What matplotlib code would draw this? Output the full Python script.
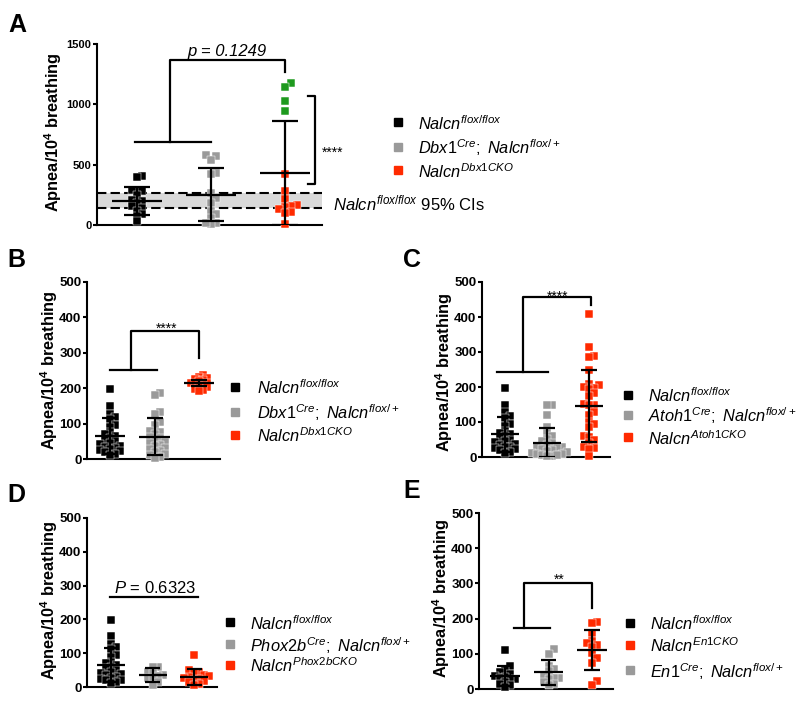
import numpy as np
import matplotlib
matplotlib.use('Agg')
import matplotlib.pyplot as plt
from matplotlib.lines import Line2D

plt.rcParams['font.family'] = ['Liberation Sans', 'DejaVu Sans']
plt.rcParams['mathtext.fontset'] = 'custom'
plt.rcParams['mathtext.rm'] = 'Liberation Sans'
plt.rcParams['mathtext.it'] = 'Liberation Sans:italic'
plt.rcParams['mathtext.bf'] = 'Liberation Sans:bold'

BLACK = '#000000'; GRAY = '#9a9a9a'; RED = '#ff2a00'; GREEN = '#1e9a1e'

# ---------------- data ----------------
A_flox = [410, 395, 290, 280, 250, 205, 195, 180, 155, 140, 120, 90, 75, 30]
A_het = [580, 572, 539, 428, 420, 263, 221, 180, 119, 91, 55, 14, 8, 14]
A_cko_red = [420, 282, 213, 166, 160, 152, 130, 110, 102, 8]
A_cko_green = [1175, 1147, 1028, 948]
A_mean = [200, 252, 430]
A_sd = [118, 220, 435]
A_ci = [138, 268]

BCD_flox = [198, 150, 128, 118, 112, 95, 90, 75, 70, 65, 60, 55, 50, 45,
            42, 38, 35, 30, 28, 25, 22, 20, 15, 12]
B_het = [186, 181, 134, 126, 105, 96, 80, 77, 70, 62, 58, 52, 48, 44, 40,
         36, 32, 28, 24, 20, 15, 10, 5, 2]
B_cko = [236, 232, 229, 225, 222, 219, 216, 214, 211, 208, 205, 202, 199, 196, 193]
B_mean = [65, 63, 214]
B_sd = [50, 52, 8]

C_het = [150, 148, 120, 85, 70, 60, 52, 45, 40, 35, 30, 28, 25, 22, 20, 18,
         15, 12, 10, 8, 5, 3, 2, 5]
C_cko = [409, 315, 289, 286, 250, 210, 205, 200, 198, 195, 182, 175, 152, 150,
         148, 128, 120, 100, 95, 85, 60, 58, 50, 40, 28, 25, 22, 2]
C_mean = [65, 41, 147]
C_sd = [50, 43, 103]

D_het = [60, 58, 45, 40, 35, 32, 28, 25, 15, 5]
D_cko = [95, 50, 45, 40, 35, 32, 30, 28, 25, 22, 18, 15, 10, 5]
D_mean = [65, 36, 30]
D_sd = [50, 20, 24]

E_flox = [112, 65, 55, 48, 42, 38, 35, 32, 28, 25, 20, 15, 10, 5]
E_het = [113, 100, 65, 57, 50, 40, 32, 30, 28, 20, 15, 10]
E_cko = [190, 187, 158, 137, 130, 125, 120, 103, 87, 75, 24, 11]
E_mean = [37, 47, 111]
E_sd = [28, 35, 56]

L_flox = r'$\mathit{Nalcn}^{\mathit{flox/flox}}$'
L_dbx_het = r'$\mathit{Dbx1}^{\mathit{Cre}}\mathit{;\ Nalcn}^{\mathit{flox/+}}$'
L_dbx_cko = r'$\mathit{Nalcn}^{\mathit{Dbx1CKO}}$'
L_atoh_het = r'$\mathit{Atoh1}^{\mathit{Cre}}\mathit{;\ Nalcn}^{\mathit{flox/+}}$'
L_atoh_cko = r'$\mathit{Nalcn}^{\mathit{Atoh1CKO}}$'
L_phox_het = r'$\mathit{Phox2b}^{\mathit{Cre}}\mathit{;\ Nalcn}^{\mathit{flox/+}}$'
L_phox_cko = r'$\mathit{Nalcn}^{\mathit{Phox2bCKO}}$'
L_en_cko = r'$\mathit{Nalcn}^{\mathit{En1CKO}}$'
L_en_het = r'$\mathit{En1}^{\mathit{Cre}}\mathit{;\ Nalcn}^{\mathit{flox/+}}$'
YLABEL = r'Apnea/10$^{\mathbf{4}}$ breathing'

# ---------------- layout helpers ----------------
W, H = 800, 703
fig = plt.figure(figsize=(W / 100, H / 100), dpi=100)


def add_ax(l, t, r, b, xlim, ylim, yticks, tsize):
    ax = fig.add_axes([l / W, 1 - b / H, (r - l) / W, (b - t) / H])
    ax.set_xlim(*xlim)
    ax.set_ylim(*ylim)
    for s in ['top', 'right']:
        ax.spines[s].set_visible(False)
    for s in ['left', 'bottom']:
        ax.spines[s].set_linewidth(1.5)
    ax.set_xticks([])
    ax.set_yticks(yticks)
    ax.tick_params(axis='y', direction='out', length=3, width=1.5, pad=1,
                   labelsize=tsize)
    for lab in ax.get_yticklabels():
        lab.set_fontweight('bold')
    ax.patch.set_alpha(0)
    return ax


def swarm(ax, ys, size=5.0):
    ys = np.asarray(ys, float)
    tr = ax.transData
    sx = tr.transform((1, 0))[0] - tr.transform((0, 0))[0]
    yp = np.array([tr.transform((0, v))[1] for v in ys])
    offs = np.zeros(len(ys))
    placed = []
    step = size * 0.5
    cands = [0.0]
    for m in range(1, 40):
        cands += [m * step, -m * step]
    for i in np.argsort(yp):
        for c in cands:
            if all(not (abs(px - c) < size and abs(py - yp[i]) < size)
                   for px, py in placed):
                break
        offs[i] = c
        placed.append((c, yp[i]))
    return offs / sx


def group(ax, xc, ys, colors, mean, sd, hw_mean=0.34, hw_cap=0.18, size=5.0):
    ys = list(ys)
    off = swarm(ax, ys, size)
    for (o, v, c) in zip(off, ys, colors):
        ax.plot([xc + o], [v], 's', ms=5.2, mfc=c, mec='white', mew=0.35,
                clip_on=False, zorder=3)
    kw = dict(color='black', lw=1.6, zorder=5, solid_capstyle='butt')
    lo = max(mean - sd, 0)
    ax.plot([xc - hw_mean, xc + hw_mean], [mean, mean], **kw)
    ax.plot([xc, xc], [lo, mean + sd], **kw)
    ax.plot([xc - hw_cap, xc + hw_cap], [mean + sd, mean + sd], **kw)
    ax.plot([xc - hw_cap, xc + hw_cap], [lo, lo], **kw)


def bracket(ax, lx, ly, mx, ty, rx, rb):
    kw = dict(color='black', lw=1.6, clip_on=False, zorder=5)
    ax.plot(lx, [ly, ly], **kw)
    ax.plot([mx, mx, rx, rx], [ly, ty, ty, rb], **kw)


def legend(mx, tx, rows, items, fs=11.8):
    for y, (c, lab) in zip(rows, items):
        fig.add_artist(Line2D([mx / W], [1 - y / H], marker='s', ms=5.5,
                              color=c, ls='none', transform=fig.transFigure))
        fig.text(tx / W, 1 - (y + 7.5) / H, lab, fontsize=fs, va='baseline',
                 ha='left')


def ylabel(x, y):
    fig.text(x / W, 1 - y / H, YLABEL, rotation=90, ha='center', va='center',
             fontsize=11.8, fontweight='bold')


def letter(x, y, s):
    fig.text(x / W, 1 - y / H, s, fontsize=18, fontweight='bold',
             va='baseline', ha='left')


# ---------------- Panel A ----------------
axA = add_ax(97, 44, 322, 225, (0.46, 3.5), (0, 1500), [0, 500, 1000, 1500], 8)
axA.axhspan(A_ci[0], A_ci[1], color='#d9d9d9', zorder=0, lw=0)
for v in A_ci:
    axA.plot([0.46, 3.5], [v, v], color='black', lw=1.5, dashes=(4.5, 2),
             zorder=1)
group(axA, 1, A_flox, [BLACK] * len(A_flox), A_mean[0], A_sd[0])
group(axA, 2, A_het, [GRAY] * len(A_het), A_mean[1], A_sd[1])
group(axA, 3, A_cko_red + A_cko_green,
      [RED] * len(A_cko_red) + [GREEN] * len(A_cko_green), A_mean[2], A_sd[2],
      size=6.0)
bracket(axA, [0.98, 2.0], 686, 1.44, 1368, 3.0, 1271)
axA.text(2.22, 1401, 'p = 0.1249', style='italic', fontsize=12, ha='center',
         va='baseline')
kw = dict(color='black', lw=1.6, clip_on=False, zorder=5)
axA.plot([3.31, 3.41, 3.41, 3.31], [1069, 1069, 340, 340], **kw)
axA.text(3.64, 564, '****', fontsize=10, ha='center', va='baseline')
fig.text(333 / W, 1 - 210 / H, L_flox + ' 95% CIs', fontsize=12,
         va='baseline', ha='left')
legend(398, 418, [122, 147, 170],
       [(BLACK, L_flox), (GRAY, L_dbx_het), (RED, L_dbx_cko)])
ylabel(53, 132)
letter(8, 32, 'A')

# ---------------- Panel B ----------------
axB = add_ax(87, 282, 220, 459, (0.483, 3.47), (0, 500), range(0, 501, 100), 9.5)
group(axB, 1, BCD_flox, [BLACK] * len(BCD_flox), B_mean[0], B_sd[0])
group(axB, 2, B_het, [GRAY] * len(B_het), B_mean[1], B_sd[1])
group(axB, 3, B_cko, [RED] * len(B_cko), B_mean[2], B_sd[2], size=4.0)
bracket(axB, [1.0, 2.06], 251, 1.465, 361, 3.0, 285)
axB.text(2.28, 356, '****', fontsize=10, ha='center', va='baseline')
legend(235, 257, [387, 412, 435],
       [(BLACK, L_flox), (GRAY, L_dbx_het), (RED, L_dbx_cko)])
ylabel(49.5, 370)
letter(7, 267, 'B')

# ---------------- Panel C ----------------
axC = add_ax(482, 282, 610, 457, (0.452, 3.5), (0, 500), range(0, 501, 100), 9.5)
group(axC, 1, BCD_flox, [BLACK] * len(BCD_flox), C_mean[0], C_sd[0])
group(axC, 2, C_het, [GRAY] * len(C_het), C_mean[1], C_sd[1])
group(axC, 3, C_cko, [RED] * len(C_cko), C_mean[2], C_sd[2])
bracket(axC, [0.80, 2.02], 243, 1.42, 456, 3.05, 433)
axC.text(2.26, 447, '****', fontsize=10, ha='center', va='baseline')
legend(628, 648, [395, 415, 437],
       [(BLACK, L_flox), (GRAY, L_atoh_het), (RED, L_atoh_cko)])
ylabel(444, 372)
letter(403, 267, 'C')

# ---------------- Panel D ----------------
axD = add_ax(87, 518, 217, 687, (0.42, 3.55), (0, 500), range(0, 501, 100), 9.5)
group(axD, 1, BCD_flox, [BLACK] * len(BCD_flox), D_mean[0], D_sd[0])
group(axD, 2, D_het, [GRAY] * len(D_het), D_mean[1], D_sd[1])
group(axD, 3, D_cko, [RED] * len(D_cko), D_mean[2], D_sd[2])
axD.plot([0.97, 3.1], [265, 265], color='black', lw=1.6, clip_on=False)
axD.text(2.06, 277, r'$\mathit{P}$ = 0.6323', fontsize=12, ha='center',
         va='baseline')
legend(230, 250, [622, 644, 665],
       [(BLACK, L_flox), (GRAY, L_phox_het), (RED, L_phox_cko)])
ylabel(49.5, 600)
letter(7, 502, 'D')

# ---------------- Panel E ----------------
axE = add_ax(479, 513, 613, 689, (0.40, 3.48), (0, 500), range(0, 501, 100), 9.5)
group(axE, 1, E_flox, [BLACK] * len(E_flox), E_mean[0], E_sd[0])
group(axE, 2, E_het, [GRAY] * len(E_het), E_mean[1], E_sd[1])
group(axE, 3, E_cko, [RED] * len(E_cko), E_mean[2], E_sd[2])
bracket(axE, [1.2, 2.03], 174, 1.44, 302, 2.99, 229)
axE.text(2.24, 298, '**', fontsize=10, ha='center', va='baseline')
legend(630, 650, [623, 645, 670],
       [(BLACK, L_flox), (RED, L_en_cko), (GRAY, L_en_het)])
ylabel(441, 598)
letter(403, 498, 'E')

fig.savefig('out.png', dpi=100)
